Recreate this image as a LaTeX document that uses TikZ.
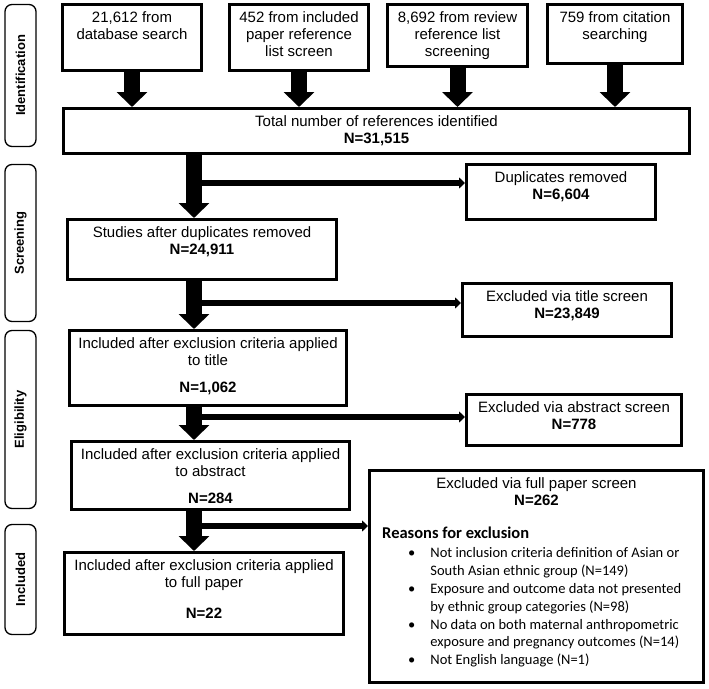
\documentclass[tikz,border=0pt]{standalone}
\usepackage{fontspec}
\setmainfont{Liberation Sans}
\newfontfamily\calfont{Carlito}
\usepackage{tikz}
\usetikzlibrary{arrows.meta,positioning}

\begin{document}
\begin{tikzpicture}[x=1pt,y=-1pt,
                    stage/.style={draw, line width=1.3pt, rounded corners=7pt, rotate=90,
                                  inner sep=0pt, font=\bfseries\fontsize{13}{15}\selectfont},
                    box/.style={draw, line width=3pt, inner sep=0pt},
                    boxtext/.style={align=center, inner sep=0pt, font=\fontsize{15}{17}\selectfont},
                    bigarrow/.style={line width=16pt, -{Triangle[width=30pt,length=15pt]}},
                    sidearrow/.style={line width=6.5pt, -{Triangle[width=11pt,length=6pt]}},
                   ]

\useasboundingbox (0,0) rectangle (709,688);

% stages on the left
\node[stage, minimum width=142pt, minimum height=31pt] (stid) at (20.5,75.5) {Identification};
\node[stage, minimum width=157pt, minimum height=31pt] (stsc) at (20.5,243) {Screening};
\node[stage, minimum width=178pt, minimum height=31pt] (stel) at (20.5,419.5) {Eligibility};
\node[stage, minimum width=110pt, minimum height=31pt] (stin) at (20.5,579.5) {Included};

% sources
\node[box, minimum width=139pt, minimum height=66pt] (src1) at (132,37.5) {};
\node[box, minimum width=139pt, minimum height=66pt] (src2) at (299,37.5) {};
\node[box, minimum width=140pt, minimum height=62pt] (src3) at (457.5,35.5) {};
\node[box, minimum width=135pt, minimum height=59pt] (src4) at (615,34) {};
\node[boxtext, below=8pt of src1.north] (src1t) {21,612 from\\database search};
\node[boxtext, below=8pt of src2.north] (src2t) {452 from included\\paper reference\\list screen};
\node[boxtext, below=8pt of src3.north] (src3t) {8,692 from review\\reference list\\screening};
\node[boxtext, below=8pt of src4.north] (src4t) {759 from citation\\searching};

% main column
\node[box, minimum width=626pt, minimum height=45pt] (total) at (376.5,131) {};
\node[boxtext, below=8pt of total.north] (totalt) {Total number of references identified\\\textbf{N=31,515}};

\node[box, minimum width=269pt, minimum height=60pt] (studies) at (202,249.5) {};
\node[boxtext, below=8pt of studies.north] (studiest) {Studies after duplicates removed\\\textbf{N=24,911}};

\node[box, minimum width=277pt, minimum height=75pt] (inttl) at (208,368) {};
\node[boxtext, below=8pt of inttl.north] (inttlt) {Included after exclusion criteria applied\\to title\\[10pt]\textbf{N=1,062}};

\node[box, minimum width=278pt, minimum height=68pt] (inabs) at (210.5,475.5) {};
\node[boxtext, below=8pt of inabs.north] (inabst) {Included after exclusion criteria applied\\to abstract\\[10pt]\textbf{N=284}};

\node[box, minimum width=279pt, minimum height=82pt] (infull) at (204,593.5) {};
\node[boxtext, below=8pt of infull.north] (infullt) {Included after exclusion criteria applied\\to full paper\\[14pt]\textbf{N=22}};

% removed / excluded
\node[box, minimum width=189pt, minimum height=55pt] (dup) at (561,192) {};
\node[boxtext, below=8pt of dup.north] (dupt) {Duplicates removed\\\textbf{N=6,604}};

\node[box, minimum width=209pt, minimum height=53pt] (exttl) at (567,310) {};
\node[boxtext, below=8pt of exttl.north] (exttlt) {Excluded via title screen\\\textbf{N=23,849}};

\node[box, minimum width=215pt, minimum height=51pt] (exabs) at (574,420) {};
\node[boxtext, below=8pt of exabs.north] (exabst) {Excluded via abstract screen\\\textbf{N=778}};

\node[box, minimum width=334pt, minimum height=212pt] (exfull) at (536.5,576.5) {};
\node[boxtext, below=8pt of exfull.north] (exfullt) {Excluded via full paper screen\\\textbf{N=262}};
\node[anchor=north west, inner sep=0pt, font=\calfont\fontsize{14.5}{17.8}\selectfont] (why) at (382,525.5) {%
  \begin{tabular}{@{\hspace{26pt}}l@{\hspace{15pt}}l@{}}
  \multicolumn{2}{@{}l}{\bfseries\fontsize{16.5}{18}\selectfont Reasons for exclusion}\\[2pt]
  \textbullet & Not inclusion criteria definition of Asian or\\
              & South Asian ethnic group (N=149)\\
  \textbullet & Exposure and outcome data not presented\\
              & by ethnic group categories (N=98)\\
  \textbullet & No data on both maternal anthropometric\\
              & exposure and pregnancy outcomes (N=14)\\
  \textbullet & Not English language (N=1)
  \end{tabular}};

% arrows
\draw[bigarrow] (src1.south) -- (src1.south |- total.north);
\draw[bigarrow] (src2.south) -- (src2.south |- total.north);
\draw[bigarrow] (src3.south) -- (src3.south |- total.north);
\draw[bigarrow] (src4.south) -- (src4.south |- total.north);

\coordinate (col) at (194,0);
\coordinate (j1) at (194,183);
\coordinate (j2) at (194,303);
\coordinate (j3) at (194,417);
\coordinate (j4) at (194,526);

\draw[bigarrow] (total.south -| col) -- (studies.north -| col);
\draw[bigarrow] (studies.south -| col) -- (inttl.north -| col);
\draw[bigarrow] (inttl.south -| col) -- (inabs.north -| col);
\draw[bigarrow] (inabs.south -| col) -- (infull.north -| col);

\draw[sidearrow] (j1) -- (j1 -| dup.west);
\draw[sidearrow] (j2) -- (j2 -| exttl.west);
\draw[sidearrow] (j3) -- (j3 -| exabs.west);
\draw[sidearrow] (j4) -- (j4 -| exfull.west);

\end{tikzpicture}
\end{document}
